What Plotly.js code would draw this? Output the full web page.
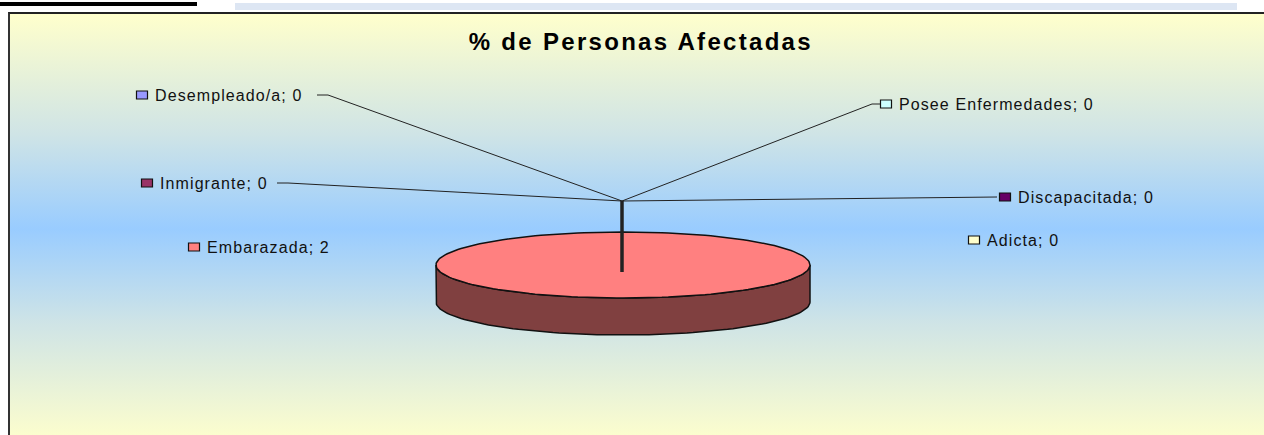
<!DOCTYPE html>
<html>
<head>
<meta charset="utf-8">
<script src="https://cdn.plot.ly/plotly-3.0.1.min.js"></script>
<style>
  html, body { margin: 0; padding: 0; width: 1264px; height: 435px; overflow: hidden; background: #fff; }
  #marco {
    position: absolute; left: 8px; top: 12px; width: 1290px; height: 430px;
    border-left: 2px solid #333; border-top: 2px solid #222;
    background: linear-gradient(to bottom, #ffffcc 0%, #cfe4e6 28%, #99ccff 50%, #cfe4e6 72%, #ffffcc 100%);
  }
  #grafico { position: absolute; left: 0; top: 0; width: 1264px; height: 435px; }
  .annotation-text { letter-spacing: 1.1px; }
  .gtitle { letter-spacing: 2.3px; }
</style>
</head>
<body>
<div id="marco"></div>
<div id="grafico"></div>
<script>
// datos del grafico
categorias = ['Embarazada', 'Adicta', 'Discapacitada', 'Posee Enfermedades', 'Desempleado/a', 'Inmigrante'];
valores = [2, 0, 0, 0, 0, 0];
colores = ['#ff8080', '#ffffcc', '#660066', '#ccffff', '#9999ff', '#993366'];

// colocacion de las etiquetas (centro del cuadradito, en pixeles)
etqX = [194, 974, 1005, 886, 142, 147];
etqY = [247, 240, 197, 104, 95, 183];
// lineas guia de cada etiqueta hacia el centro
hub = [622, 201];
guias = [
    [[622, 272]],
    null,
    [[997, 197]],
    [[872, 104], [880, 104]],
    [[328, 95], [317, 95]],
    [[288, 183], [277, 183]]
];

// geometria de la torta 3D
cx = 623; cy = 265; rx = 187; ry = 33; prof = 37;

function oscurecer(hex) {
    let r = parseInt(hex.substr(1, 2), 16), g = parseInt(hex.substr(3, 2), 16), b = parseInt(hex.substr(5, 2), 16);
    return 'rgb(' + Math.round(r * 0.5) + ',' + Math.round(g * 0.5) + ',' + Math.round(b * 0.5) + ')';
}

function arco(a0, a1, dy) {
    let px = [], py = [];
    let n = Math.max(4, Math.ceil((a1 - a0) / (2 * Math.PI) * 180));
    for (let k = 0; k <= n; k++) {
        let a = a0 + (a1 - a0) * k / n;
        px.push(cx + rx * Math.sin(a));
        py.push(cy - ry * Math.cos(a) + dy);
    }
    return [px, py];
}

total = valores.reduce((a, b) => a + b, 0);
lados = [];
tapas = [];
acum = 0;
for (let i = 0; i < valores.length; i++) {
    let frac = valores[i] / total;
    if (frac <= 0) continue;
    let a0 = acum * 2 * Math.PI, a1 = (acum + frac) * 2 * Math.PI;
    acum += frac;

    // cara lateral visible (mitad delantera)
    let s = Math.max(a0, Math.PI / 2), e = Math.min(a1, 3 * Math.PI / 2);
    if (e > s) {
        let arr = arco(s, e, 0), abj = arco(s, e, prof);
        lados.push({
            x: arr[0].concat(abj[0].slice().reverse(), [arr[0][0]]),
            y: arr[1].concat(abj[1].slice().reverse(), [arr[1][0]]),
            type: 'scatter', mode: 'lines', fill: 'toself',
            fillcolor: oscurecer(colores[i]),
            line: {color: '#111', width: 1.5},
            hoverinfo: 'skip', showlegend: false
        });
    }
    // tapa superior
    let t = arco(a0, a1, 0);
    let tx = t[0], ty = t[1];
    if (frac < 1) { tx = [cx].concat(tx, [cx]); ty = [cy].concat(ty, [cy]); }
    tapas.push({
        x: tx, y: ty,
        type: 'scatter', mode: 'lines', fill: 'toself',
        fillcolor: colores[i],
        line: {color: '#111', width: 1.5},
        hoverinfo: 'skip', showlegend: false
    });
}

shapes = [
    {type: 'rect', xref: 'x', yref: 'y', x0: 0, x1: 197, y0: 2, y1: 6, fillcolor: '#000', line: {width: 0}},
    {type: 'rect', xref: 'x', yref: 'y', x0: 235, x1: 1237, y0: 3, y1: 10, fillcolor: '#dde6f3', line: {width: 0}}
];
annotations = [];
for (let i = 0; i < categorias.length; i++) {
    shapes.push({
        type: 'rect', xref: 'x', yref: 'y',
        x0: etqX[i] - 5.5, x1: etqX[i] + 5.5, y0: etqY[i] - 4, y1: etqY[i] + 4,
        fillcolor: colores[i], line: {color: '#111', width: 1.2}
    });
    annotations.push({
        x: etqX[i] + 11, y: etqY[i], xref: 'x', yref: 'y',
        text: categorias[i] + '; ' + valores[i],
        showarrow: false, xanchor: 'left', yanchor: 'middle',
        font: {family: 'Liberation Sans, Arial, sans-serif', size: 16, color: '#111'}
    });
    if (guias[i]) {
        let p = [hub].concat(guias[i]);
        let d = 'M' + p.map(q => q[0] + ',' + q[1]).join(' L');
        shapes.push({type: 'path', xref: 'x', yref: 'y', path: d,
            line: {color: '#222', width: i == 0 ? 3.5 : 1}});
    }
}

var layout = {
    width: 1264, height: 435,
    margin: {l: 0, r: 0, t: 0, b: 0, pad: 0},
    paper_bgcolor: 'rgba(0,0,0,0)',
    plot_bgcolor: 'rgba(0,0,0,0)',
    title: {
        text: '<b>% de Personas Afectadas</b>',
        x: 0.507, xanchor: 'center', y: 1 - 42 / 435, yanchor: 'middle',
        font: {family: 'Liberation Sans, Arial, sans-serif', size: 24, color: '#000'}
    },
    xaxis: {range: [0, 1264], visible: false, fixedrange: true},
    yaxis: {range: [435, 0], visible: false, fixedrange: true},
    shapes: shapes,
    annotations: annotations,
    showlegend: false
};

Plotly.newPlot('grafico', lados.concat(tapas), layout, {displayModeBar: false, staticPlot: true});
</script>
</body>
</html>
